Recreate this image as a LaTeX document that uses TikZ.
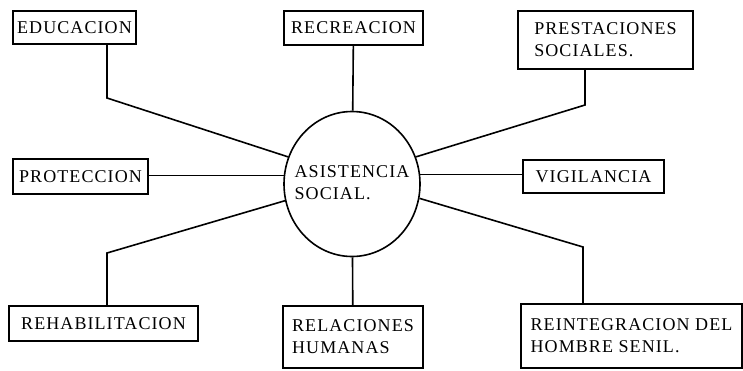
\documentclass[tikz,border=0pt]{standalone}
\usepackage{fontspec}
\setmainfont{Liberation Serif}[LetterSpace=6]
\usetikzlibrary{positioning,shapes.geometric}

\begin{document}
\begin{tikzpicture}[x=1pt,y=-1pt,line width=1.6pt,font=\fontsize{18}{22}\selectfont,
		cajanode/.style={draw,rectangle,line width=2pt,inner sep=0pt,anchor=north west,align=left},
		centronode/.style={draw,ellipse,inner sep=0pt,minimum width=136pt,minimum height=145pt}]
		\useasboundingbox (0,0) rectangle (743,370);

		\node[centronode]	(as)	at (352,184)	{\makebox[0pt]{\begin{tabular}{@{}l@{}}ASISTENCIA\\SOCIAL.\end{tabular}}};

		\node[cajanode,minimum width=123pt,minimum height=33pt]		(edu)	at (12,10)		{EDUCACION};
		\node[cajanode,minimum width=139pt,minimum height=34pt]		(rec)	at (283,10)		{RECREACION};
		\node[cajanode,minimum width=175pt,minimum height=58pt]		(pres)	at (517,10)		{PRESTACIONES\\SOCIALES.};
		\node[cajanode,minimum width=135pt,minimum height=35pt]		(prot)	at (12,158)		{PROTECCION};
		\node[cajanode,minimum width=141pt,minimum height=33pt]		(vig)	at (522,159)	{VIGILANCIA};
		\node[cajanode,minimum width=189pt,minimum height=35pt]		(reh)	at (8,305)		{REHABILITACION};
		\node[cajanode,minimum width=140pt,minimum height=62pt]		(rel)	at (282,305)	{RELACIONES\\HUMANAS};
		\node[cajanode,minimum width=221pt,minimum height=64pt]		(rein)	at (520,303)	{REINTEGRACION DEL\\HOMBRE SENIL.};

		\coordinate (eduk)	at (107,98);
		\coordinate (presk)	at (585,105);
		\coordinate (rehk)	at (107,253);
		\coordinate (reink)	at (583,247);

		\draw (edu.south -| eduk) -- (eduk) -- (as.157);
		\draw (rec) -- (as);
		\draw (pres.south -| presk) -- (presk) -- (as.23);
		\draw (as.173) -- (as.173 -| prot.east);
		\draw (as.8) -- (as.8 -| vig.west);
		\draw (reh.north -| rehk) -- (rehk) -- (as.194);
		\draw (as) -- (rel);
		\draw (rein.north -| reink) -- (reink) -- (as.-12);
	\end{tikzpicture}
\end{document}
